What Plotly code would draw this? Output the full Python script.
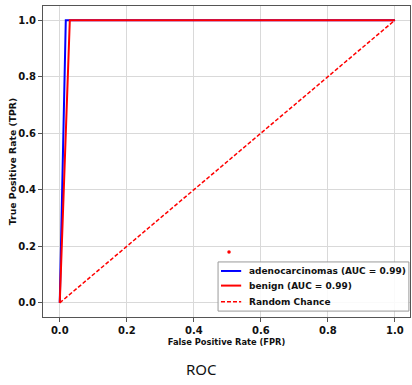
import plotly.graph_objects as go

# ROC data
adeno_fpr = [0.0, 0.018, 1.0]
adeno_tpr = [0.0, 1.0, 1.0]
benign_fpr = [0.0, 0.03, 1.0]
benign_tpr = [0.0, 1.0, 1.0]
chance_x = [0.0, 1.0]
chance_y = [0.0, 1.0]
dot_x = [0.505]
dot_y = [0.18]
tick_vals = [0.0, 0.2, 0.4, 0.6, 0.8, 1.0]
tick_text = ["0.0", "0.2", "0.4", "0.6", "0.8", "1.0"]
legend_labels = ["adenocarcinomas (AUC = 0.99)", "benign (AUC = 0.99)", "Random Chance"]
legend_colors = ["blue", "red", "red"]
legend_dashes = ["solid", "solid", "4px,2px"]

fig = go.Figure()
fig.add_trace(go.Scatter(x=adeno_fpr, y=adeno_tpr, mode="lines",
                         line=dict(color="blue", width=2),
                         name=legend_labels[0], showlegend=False))
fig.add_trace(go.Scatter(x=benign_fpr, y=benign_tpr, mode="lines",
                         line=dict(color="red", width=2),
                         name=legend_labels[1], showlegend=False))
fig.add_trace(go.Scatter(x=chance_x, y=chance_y, mode="lines",
                         line=dict(color="red", width=1.5, dash="4px,2px"),
                         name=legend_labels[2], showlegend=False))
fig.add_trace(go.Scatter(x=dot_x, y=dot_y, mode="markers",
                         marker=dict(color="red", size=3.5),
                         showlegend=False))

axis_common = dict(
    showgrid=True, gridcolor="#d9d9d9", gridwidth=1,
    zeroline=False, showline=True, linecolor="#555555", linewidth=1,
    mirror=True, ticks="outside", ticklen=4, tickcolor="#555555",
    tickvals=tick_vals, ticktext=tick_text,
    tickfont=dict(family="DejaVu Sans", size=10, color="#111111", weight="bold"),
)

# manual legend (matplotlib-like compact box)
shapes = [dict(type="rect", xref="paper", yref="paper", x0=0.477, x1=0.997, y0=0.019, y1=0.177,
               line=dict(color="#999999", width=1), fillcolor="rgba(255,255,255,0.85)", layer="above")]
annotations = []
row_y = [0.148, 0.101, 0.049]
for lab, col, dsh, ry in zip(legend_labels, legend_colors, legend_dashes, row_y):
    shapes.append(dict(type="line", xref="paper", yref="paper", x0=0.485, x1=0.540, y0=ry, y1=ry,
                       line=dict(color=col, width=2 if dsh == "solid" else 1.5, dash=dsh), layer="above"))
    annotations.append(dict(text="<b>%s</b>" % lab, xref="paper", yref="paper", x=0.557, y=ry,
                            xanchor="left", yanchor="middle", showarrow=False,
                            font=dict(family="DejaVu Sans", size=9, color="#111111")))

annotations.append(dict(text="ROC", xref="paper", yref="paper", x=0.433, y=-0.168,
                        xanchor="center", yanchor="middle", showarrow=False,
                        font=dict(family="Noto Sans", size=15, color="#111111")))

fig.update_layout(
    width=412, height=385,
    margin=dict(l=43, r=2, t=6, b=68, autoexpand=False),
    paper_bgcolor="white", plot_bgcolor="white",
    xaxis=dict(range=[-0.05, 1.045], **axis_common,
               title=dict(text="<b>False Positive Rate (FPR)</b>",
                          font=dict(family="DejaVu Sans", size=8.3, color="#111111"),
                          standoff=4)),
    yaxis=dict(range=[-0.05, 1.05], **axis_common,
               title=dict(text="<b>True Positive Rate (TPR)</b>",
                          font=dict(family="DejaVu Sans", size=9.3, color="#111111"),
                          standoff=0)),
    showlegend=False,
    shapes=shapes,
    annotations=annotations,
)

fig.write_html("out.html", config={"displayModeBar": False},
               post_script="document.body.style.margin='0px';")
